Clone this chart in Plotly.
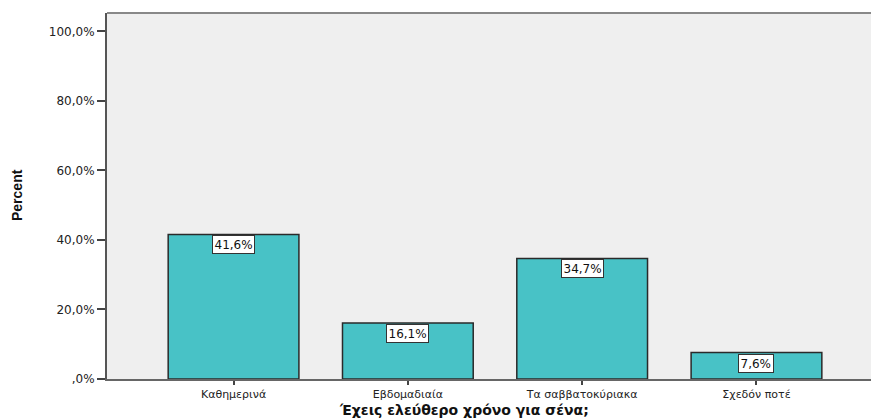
import plotly.graph_objects as go

categories = ["Καθημερινά", "Εβδομαδιαία", "Τα σαββατοκύριακα", "Σχεδόν ποτέ"]
percents = [41.6, 16.1, 34.7, 7.6]
y_ticks = [0, 20, 40, 60, 80, 100]
y_tick_labels = [",0%", "20,0%", "40,0%", "60,0%", "80,0%", "100,0%"]

FONT = "DejaVu Sans, Verdana, Arial"

fig = go.Figure()
fig.add_trace(go.Bar(
    x=list(range(len(categories))), y=percents,
    marker=dict(color="#48C2C6", line=dict(color="#2a2a2a", width=1.5)),
    width=0.75,
))

for i, v in enumerate(percents):
    label = f"{v:.1f}%".replace(".", ",")
    fig.add_annotation(
        x=i, y=v, text=label, showarrow=False, yanchor="top", yshift=-1,
        bgcolor="white", bordercolor="#333333", borderwidth=1, borderpad=1.5,
        font=dict(family=FONT, size=12, color="#111"),
    )

# x-axis title (placed like the original, left of the plot centre)
fig.add_annotation(
    xref="paper", yref="paper", x=(464 - 107) / 764, y=0, yshift=-31,
    xanchor="center", yanchor="middle", showarrow=False,
    text="<b>Έχεις ελεύθερο χρόνο για σένα;</b>",
    font=dict(family=FONT, size=14, color="#111"),
)
# y-axis title
fig.add_annotation(
    xref="paper", yref="paper", x=0, xshift=-90, y=(379 - 195) / 366,
    xanchor="center", yanchor="middle", showarrow=False, textangle=-90,
    text="<b>Percent</b>",
    font=dict(family="Liberation Sans Narrow, Liberation Sans, Arial", size=14, color="#111"),
)

fig.update_layout(
    width=871, height=419,
    margin=dict(l=107, r=0, t=13, b=40),
    plot_bgcolor="#EFEFEF", paper_bgcolor="white",
    showlegend=False,
    font=dict(family=FONT, size=12, color="#222"),
    xaxis=dict(
        range=[-0.726, 3.657],
        tickvals=list(range(len(categories))), ticktext=categories,
        ticks="outside", ticklen=4, tickcolor="#444", tickwidth=1.5,
        showline=True, linecolor="#666", linewidth=2,
        showgrid=False, zeroline=False, mirror=False,
        tickfont=dict(size=11),
    ),
    yaxis=dict(
        range=[0, 105.3],
        tickvals=y_ticks, ticktext=y_tick_labels,
        ticks="outside", ticklen=8, tickcolor="#444", tickwidth=1.5,
        showline=True, linecolor="#555", linewidth=2,
        showgrid=False, zeroline=False,
        tickfont=dict(size=12),
    ),
)

# top border of plot area
fig.add_shape(type="line", xref="paper", yref="paper", x0=0, x1=1, y0=1, y1=1,
              line=dict(color="#888", width=2))

fig.write_html("out.html")
